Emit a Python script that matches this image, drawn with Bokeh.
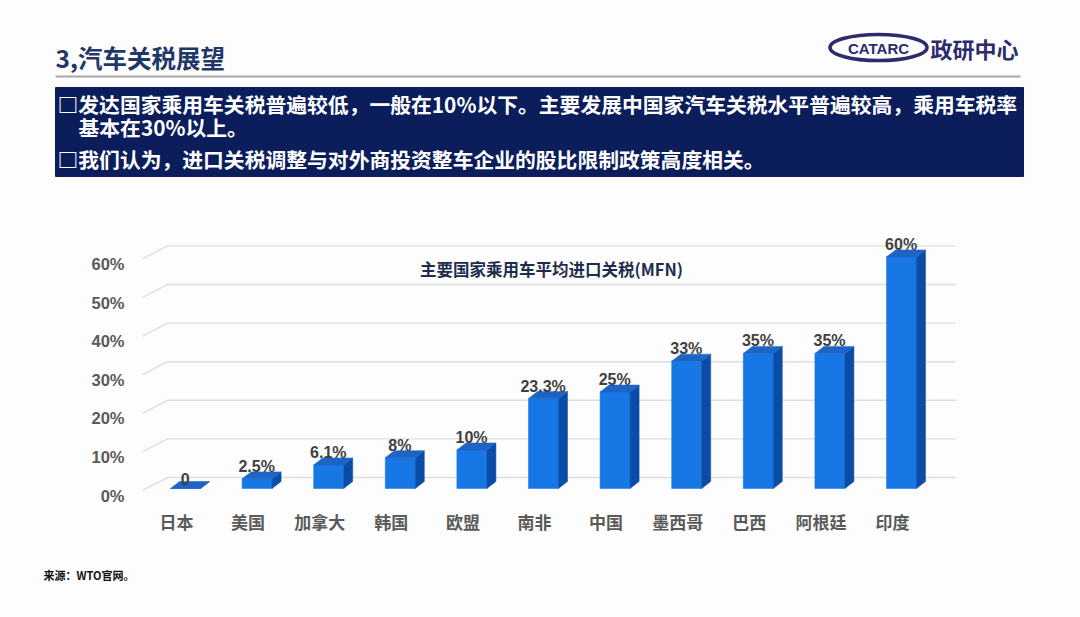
from bokeh.plotting import figure
from bokeh.models import Range1d, ColumnDataSource
from bokeh.core.properties import value
from bokeh.embed import file_html
from bokeh.resources import INLINE

# ---------------- data ----------------
countries = ["日本", "美国", "加拿大", "韩国", "欧盟", "南非", "中国", "墨西哥", "巴西", "阿根廷", "印度"]
tariffs = [0, 2.5, 6.1, 8, 10, 23.3, 25, 33, 35, 35, 60]
tariff_labels = ["0", "2.5%", "6.1%", "8%", "10%", "23.3%", "25%", "33%", "35%", "35%", "60%"]
y_ticks = [0, 10, 20, 30, 40, 50, 60]
y_tick_labels = ["0%", "10%", "20%", "30%", "40%", "50%", "60%"]

slide_title = "3,汽车关税展望"
box_lines = [
    "□发达国家乘用车关税普遍较低，一般在10%以下。主要发展中国家汽车关税水平普遍较高，乘用车税率",
    "基本在30%以上。",
    "□我们认为，进口关税调整与对外商投资整车企业的股比限制政策高度相关。",
]
chart_title = "主要国家乘用车平均进口关税(MFN)"
source_note = "来源：WTO官网。"
logo_text = "CATARC"
logo_cn = "政研中心"

CJK = "Noto Sans CJK SC"
BG = "#fdfdfd"
NAVY = "#0B1E5B"
W, H = 1080, 617

# Page figure: primary ranges are page layout coordinates (y down);
# the chart uses its own category / percent scales (extra ranges).
PX_CAT, CAT0_PX = 71.6, 176.0      # px per category, px of category 0
PX_PCT, PCT0_PX = 3.86, 495.0      # px per percent point, px of 0 %

p = figure(width=W, height=H, x_range=Range1d(0, W), y_range=Range1d(H, 0),
           output_backend="svg", toolbar_location=None, min_border=0,
           background_fill_color=BG, border_fill_color=BG, outline_line_color=None)
p.axis.visible = False
p.grid.visible = False
p.extra_x_ranges = {"cat": Range1d(-CAT0_PX / PX_CAT, (W - CAT0_PX) / PX_CAT)}
p.extra_y_ranges = {"pct": Range1d(-(H - PCT0_PX) / PX_PCT, PCT0_PX / PX_PCT)}

# ---------------- header ----------------
p.text(x=[55], y=[57], text=[slide_title], text_font=value(CJK), text_font_size="24.5px",
       text_font_style="bold", text_color="#1F3868", text_baseline="middle", text_align="left")
p.segment(x0=[55], y0=[76], x1=[1020], y1=[76], line_color="#a9a9a9", line_width=2)
p.quad(left=[55], right=[1023], top=[87], bottom=[176], fill_color=NAVY, line_color=NAVY)
p.text(x=[57, 78, 57], y=[103, 126, 158], text=box_lines, text_font=value(CJK),
       text_font_size="20.8px", text_font_style="bold", text_color="white",
       text_baseline="middle", text_align="left")
p.ellipse(x=[878], y=[47], width=[97], height=[26], fill_color=None,
          line_color="#2B2B6E", line_width=3.5)
p.text(x=[878], y=[48], text=[logo_text], text_font=value("Liberation Sans"),
       text_font_size="15px", text_font_style="bold", text_color="#2B2B6E",
       text_baseline="middle", text_align="center")
p.text(x=[930], y=[47], text=[logo_cn], text_font=value(CJK), text_font_size="22px",
       text_font_style="bold", text_color="#2B2B6E", text_baseline="middle", text_align="left")

# ---------------- chart ----------------
# back-wall gridlines with the side diagonal
gx, gy = [], []
for v in y_ticks:
    gx.append([-0.475, -0.126, 10.88])
    gy.append([v + 1.3, v + 4.66, v + 4.66])
p.multi_line(xs=gx, ys=gy, line_color="#dedede", line_width=1.4,
             x_range_name="cat", y_range_name="pct")

# 3D bars
b0 = 1.81
fw_l, fw_r = -0.084, 0.335
ddx, ddy = 0.126, 1.81
front = dict(left=[], right=[], bottom=[], top=[])
side_x, side_y, top_x, top_y = [], [], [], []
for i, v in enumerate(tariffs):
    l, r = i + fw_l, i + fw_r
    front["left"].append(l); front["right"].append(r)
    front["bottom"].append(b0); front["top"].append(v + b0)
    side_x.append([r, r + ddx, r + ddx, r])
    side_y.append([b0, b0 + ddy, v + b0 + ddy, v + b0])
    top_x.append([l, r, r + ddx, l + ddx])
    top_y.append([v + b0, v + b0, v + b0 + ddy, v + b0 + ddy])
p.quad(source=ColumnDataSource(front), left="left", right="right", bottom="bottom", top="top",
       fill_color="#1677E5", line_color="#1677E5", line_width=0.5,
       x_range_name="cat", y_range_name="pct")
p.patches(xs=side_x, ys=side_y, fill_color="#0B4DA6", line_color="#0B4DA6", line_width=0.5,
          x_range_name="cat", y_range_name="pct")
p.patches(xs=top_x, ys=top_y, fill_color="#1E63C6", line_color="#1E63C6", line_width=0.5,
          x_range_name="cat", y_range_name="pct")

# value labels
p.text(x=[i + 0.12 for i in range(len(tariffs))], y=[v + b0 + ddy for v in tariffs],
       text=tariff_labels, text_font=value("Liberation Sans"), text_font_size="16px",
       text_font_style="bold", text_color="#404040", text_align="center",
       text_baseline="bottom", y_offset=3, x_range_name="cat", y_range_name="pct")

# y tick labels (front plane) and category labels
p.text(x=[124] * len(y_ticks), y=y_ticks, text=y_tick_labels,
       text_font=value("Liberation Sans"), text_font_size="16.5px", text_font_style="bold",
       text_color="#5a5a5a", text_align="right", text_baseline="middle", y_range_name="pct")
p.text(x=list(range(len(countries))), y=[521] * len(countries), text=countries,
       text_font=value(CJK), text_font_size="17px", text_font_style="bold",
       text_color="#5a5a5a", text_align="center", text_baseline="middle", x_range_name="cat")

# chart title
p.text(x=[551], y=[268], text=[chart_title], text_font=value(CJK), text_font_size="16.5px",
       text_font_style="bold", text_color="#1F2D4D", text_align="center", text_baseline="middle")

# ---------------- footer ----------------
p.text(x=[43], y=[574], text=[source_note], text_font=value(CJK), text_font_size="11px",
       text_font_style="bold", text_color="#111111", text_baseline="middle", text_align="left")

open("out.html", "w").write(file_html(p, INLINE))
